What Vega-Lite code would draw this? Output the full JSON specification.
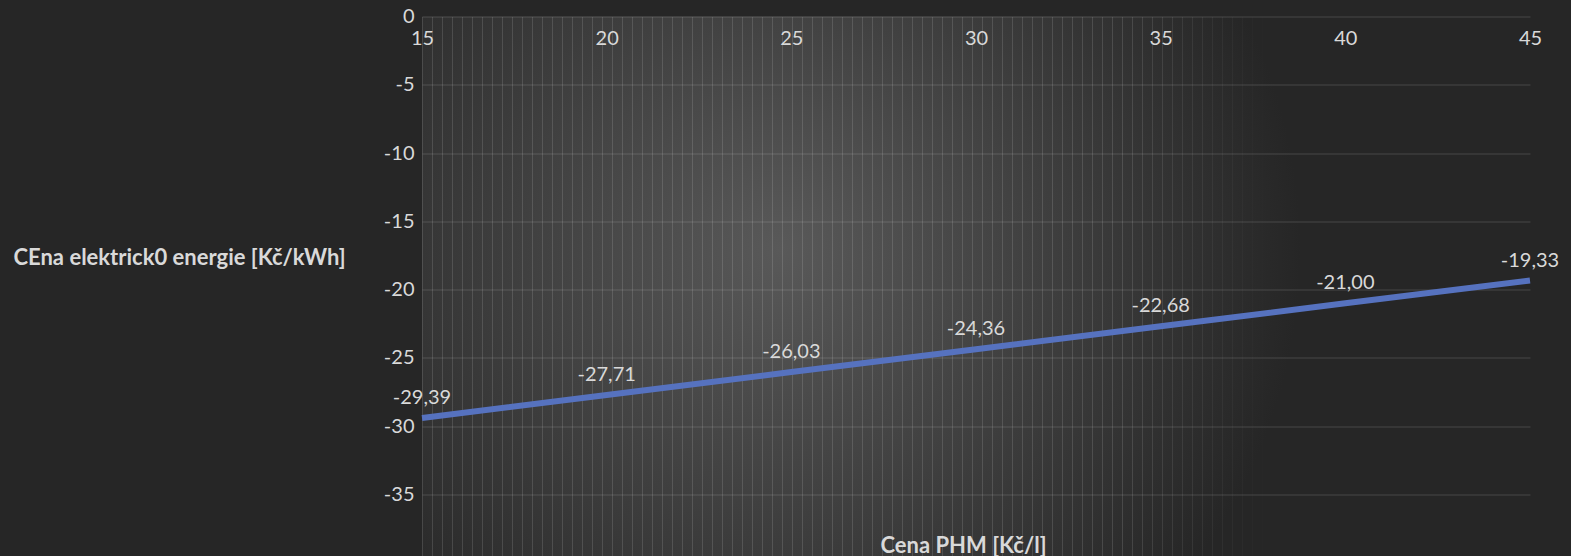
{
  "$schema": "https://vega.github.io/schema/vega-lite/v6.json",
  "width": 1108,
  "height": 539.5,
  "autosize": "none",
  "padding": {"left": 422, "top": 16.5, "right": 41, "bottom": 0},
  "background": "#262626",
  "config": {
    "font": "Lato",
    "locale": {"number": {"decimal": ",", "thousands": " ", "grouping": [3], "currency": ["", ""], "minus": "-"}},
    "view": {
      "stroke": null,
      "fill": {"gradient": "radial", "x1": 0.323, "y1": 0.467, "r1": 0, "x2": 0.323, "y2": 0.467, "r2": 0.47,
        "stops": [{"offset": 0, "color": "#595959"}, {"offset": 1, "color": "#262626"}]}
    }
  },
  "data": {"values": [
    {"cena_phm": 15, "cena_el": -29.39},
    {"cena_phm": 20, "cena_el": -27.71},
    {"cena_phm": 25, "cena_el": -26.03},
    {"cena_phm": 30, "cena_el": -24.36},
    {"cena_phm": 35, "cena_el": -22.68},
    {"cena_phm": 40, "cena_el": -21.00},
    {"cena_phm": 45, "cena_el": -19.33}
  ]},
  "resolve": {"axis": {"x": "independent"}},
  "layer": [
    {
      "mark": {"type": "line", "color": "#5672BF", "strokeWidth": 6, "strokeCap": "butt"},
      "encoding": {
        "x": {"field": "cena_phm", "type": "quantitative",
          "scale": {"domain": [15, 45], "nice": false, "zero": false},
          "axis": {"title": "Cena PHM [Kč/l]", "orient": "bottom", "offset": -539.5,
            "values": [15, 20, 25, 30, 35, 40, 45], "format": "d",
            "grid": false, "domain": false, "ticks": false, "tickSize": 0,
            "labelPadding": 12, "labelFlush": false, "labelOverlap": false,
            "labelFontSize": 20, "labelColor": "#d9d9d9", "labelFont": "Lato",
            "titleX": 541, "titleY": 528.5, "titleBaseline": "middle", "titleAlign": "center",
            "titleFontSize": 22, "titleFontWeight": "bold", "titleColor": "#d9d9d9", "titleFont": "Lato"}},
        "y": {"field": "cena_el", "type": "quantitative",
          "scale": {"domain": [-39.5, 0], "nice": false, "zero": false},
          "axis": {"title": "CEna elektrick0 energie [Kč/kWh]",
            "values": [0, -5, -10, -15, -20, -25, -30, -35], "format": "d",
            "grid": true, "gridColor": "#ffffff", "gridOpacity": 0.1, "gridWidth": 1.5,
            "domain": false, "ticks": false, "tickSize": 0,
            "labelPadding": 8, "labelOverlap": false, "labelFlush": false,
            "labelFontSize": 20, "labelColor": "#d9d9d9", "labelFont": "Lato",
            "titleAngle": 0, "titleAlign": "left", "titleBaseline": "middle",
            "titleX": -409, "titleY": 240.5,
            "titleFontSize": 22, "titleFontWeight": "bold", "titleColor": "#d9d9d9", "titleFont": "Lato"}}
      }
    },
    {
      "mark": {"type": "text", "dy": -20, "fontSize": 20, "color": "#d9d9d9", "font": "Lato", "align": "center", "baseline": "middle"},
      "encoding": {
        "x": {"field": "cena_phm", "type": "quantitative",
          "axis": {"orient": "top", "title": null, "labels": false, "ticks": false, "domain": false,
            "grid": true, "gridColor": "#ffffff", "gridWidth": 1,
            "gridOpacity": {"expr": "datum.value < 34 ? 0.13 : max(0, 0.13 * (38 - datum.value) / 4)"},
            "values": [15, 15.27, 15.54, 15.81, 16.08, 16.35, 16.62, 16.9, 17.17, 17.44, 17.71, 17.98, 18.25, 18.52, 18.79, 19.06, 19.33, 19.6, 19.87, 20.15, 20.42, 20.69, 20.96, 21.23, 21.5, 21.77, 22.04, 22.31, 22.58, 22.85, 23.12, 23.39, 23.67, 23.94, 24.21, 24.48, 24.75, 25.02, 25.29, 25.56, 25.83, 26.1, 26.37, 26.64, 26.92, 27.19, 27.46, 27.73, 28, 28.27, 28.54, 28.81, 29.08, 29.35, 29.62, 29.89, 30.17, 30.44, 30.71, 30.98, 31.25, 31.52, 31.79, 32.06, 32.33, 32.6, 32.87, 33.14, 33.41, 33.69, 33.96, 34.23, 34.5, 34.77, 35.04, 35.31, 35.58, 35.85, 36.12, 36.39, 36.66, 36.94, 37.21, 37.48, 37.75]}},
        "y": {"field": "cena_el", "type": "quantitative"},
        "text": {"field": "cena_el", "type": "quantitative", "format": ".2f"}
      }
    }
  ]
}
